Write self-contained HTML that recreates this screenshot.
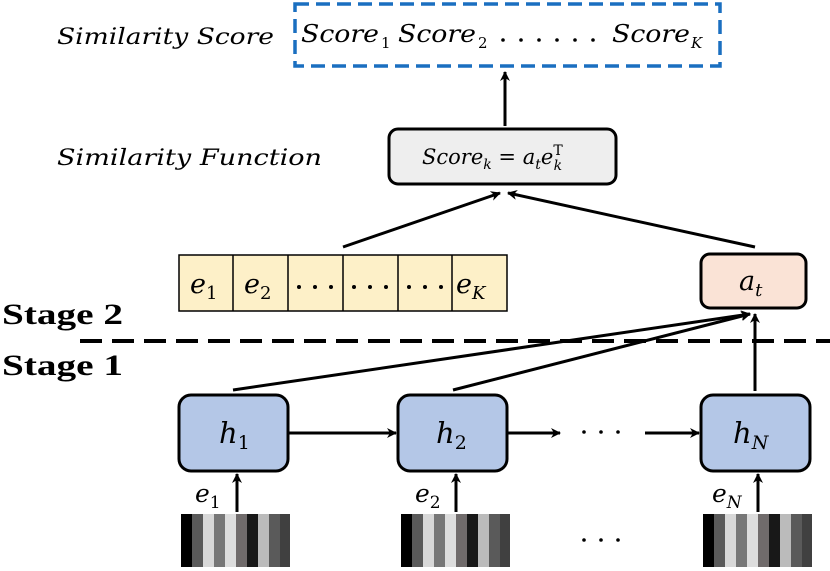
<!DOCTYPE html>
<html><head><meta charset="utf-8"><style>
html,body{margin:0;padding:0;background:#fff;}
svg{display:block;}
text{font-family:"DejaVu Serif","Liberation Serif",serif;}
.it{font-style:italic;}
.b{font-family:"Liberation Serif",serif;font-weight:bold;}
</style></head><body>
<svg width="830" height="571" viewBox="0 0 830 571" xmlns="http://www.w3.org/2000/svg">
<defs>
<marker id="ar" markerWidth="10" markerHeight="10" refX="9" refY="5" orient="auto" markerUnits="userSpaceOnUse">
<path d="M0,0 L10,5 L0,10 L3,5 Z" fill="#000"/>
</marker>
</defs>
<text x="57" y="44" class="it" font-size="22" textLength="217" lengthAdjust="spacingAndGlyphs">Similarity Score</text>
<rect x="295" y="4" width="425" height="62" fill="none" stroke="#1a6fc0" stroke-width="3.5" stroke-dasharray="14,7"/>
<text x="301" y="42" class="it" font-size="24" textLength="78" lengthAdjust="spacingAndGlyphs">Score</text><text x="381" y="48" font-size="15">1</text>
<text x="398" y="42" class="it" font-size="24" textLength="78" lengthAdjust="spacingAndGlyphs">Score</text><text x="478" y="48" font-size="15">2</text>
<g fill="#000"><circle cx="503" cy="40" r="1.8"/><circle cx="521" cy="40" r="1.8"/><circle cx="539" cy="40" r="1.8"/><circle cx="557" cy="40" r="1.8"/><circle cx="575" cy="40" r="1.8"/><circle cx="593" cy="40" r="1.8"/></g>
<text x="612" y="42" class="it" font-size="24" textLength="78" lengthAdjust="spacingAndGlyphs">Score</text><text x="691" y="48" class="it" font-size="15">K</text>
<line x1="505" y1="126" x2="505" y2="72" stroke="#000" stroke-width="3" marker-end="url(#ar)"/>
<text x="57" y="165" class="it" font-size="22" textLength="265" lengthAdjust="spacingAndGlyphs">Similarity Function</text>
<rect x="389" y="129" width="227" height="55" rx="9" fill="#eeeeee" stroke="#000" stroke-width="3"/>
<text x="422" y="164" class="it" font-size="21">Score<tspan font-size="14" dy="5">k</tspan><tspan dy="-5" font-style="normal"> = </tspan><tspan>a</tspan><tspan font-size="14" dy="5">t</tspan><tspan dy="-5">e</tspan><tspan font-size="14" dy="-9" font-style="normal">T</tspan><tspan font-size="14" dx="-9" dy="15">k</tspan></text>
<line x1="343" y1="247" x2="500" y2="193" stroke="#000" stroke-width="3" marker-end="url(#ar)"/>
<line x1="755" y1="247" x2="508" y2="193" stroke="#000" stroke-width="3" marker-end="url(#ar)"/>
<rect x="179" y="255" width="328" height="56" fill="#fdf0c8" stroke="#000" stroke-width="1.5"/>
<g stroke="#000" stroke-width="1.5">
<line x1="233" y1="255" x2="233" y2="311"/><line x1="288" y1="255" x2="288" y2="311"/>
<line x1="343" y1="255" x2="343" y2="311"/><line x1="398" y1="255" x2="398" y2="311"/>
<line x1="452" y1="255" x2="452" y2="311"/>
</g>
<g font-size="27" class="it">
<text x="190" y="293">e<tspan font-size="18" dy="6" font-style="normal">1</tspan></text>
<text x="244" y="293">e<tspan font-size="18" dy="6" font-style="normal">2</tspan></text>
<text x="456" y="293">e<tspan font-size="18" dy="6">K</tspan></text>
</g>
<g fill="#000">
<circle cx="299" cy="287" r="2"/><circle cx="315" cy="287" r="2"/><circle cx="331" cy="287" r="2"/>
<circle cx="354" cy="287" r="2"/><circle cx="370" cy="287" r="2"/><circle cx="386" cy="287" r="2"/>
<circle cx="409" cy="287" r="2"/><circle cx="425" cy="287" r="2"/><circle cx="441" cy="287" r="2"/>
</g>
<rect x="701" y="254" width="105" height="54" rx="9" fill="#fae3d6" stroke="#000" stroke-width="3"/>
<text x="739" y="290" class="it" font-size="27">a<tspan font-size="18" dy="6">t</tspan></text>
<text x="2" y="324" font-size="30" class="b" textLength="121" lengthAdjust="spacingAndGlyphs">Stage 2</text>
<line x1="80" y1="341" x2="830" y2="341" stroke="#000" stroke-width="4" stroke-dasharray="22,10"/>
<text x="2" y="375" font-size="30" class="b" textLength="121" lengthAdjust="spacingAndGlyphs">Stage 1</text>
<line x1="233" y1="390" x2="750" y2="314" stroke="#000" stroke-width="3" marker-end="url(#ar)"/>
<line x1="453" y1="390" x2="750" y2="314" stroke="#000" stroke-width="3" marker-end="url(#ar)"/>
<line x1="755" y1="391" x2="755" y2="314" stroke="#000" stroke-width="3" marker-end="url(#ar)"/>
<rect x="179" y="395" width="109" height="76" rx="12" fill="#b4c7e7" stroke="#000" stroke-width="3"/>
<rect x="398" y="395" width="109" height="76" rx="12" fill="#b4c7e7" stroke="#000" stroke-width="3"/>
<rect x="701" y="395" width="109" height="76" rx="12" fill="#b4c7e7" stroke="#000" stroke-width="3"/>
<g font-size="29" class="it">
<text x="219" y="443">h<tspan font-size="19" dy="6" font-style="normal">1</tspan></text>
<text x="436" y="443">h<tspan font-size="19" dy="6" font-style="normal">2</tspan></text>
<text x="733" y="443">h<tspan font-size="19" dy="6">N</tspan></text>
</g>
<line x1="288" y1="433" x2="396" y2="433" stroke="#000" stroke-width="3" marker-end="url(#ar)"/>
<line x1="507" y1="433" x2="560" y2="433" stroke="#000" stroke-width="3" marker-end="url(#ar)"/>
<g fill="#000"><circle cx="584" cy="432" r="1.8"/><circle cx="601" cy="432" r="1.8"/><circle cx="618" cy="432" r="1.8"/></g>
<line x1="645" y1="433" x2="699" y2="433" stroke="#000" stroke-width="3" marker-end="url(#ar)"/>
<g font-size="25" class="it">
<text x="195" y="502">e<tspan font-size="17" dy="6" font-style="normal">1</tspan></text>
<text x="415" y="502">e<tspan font-size="17" dy="6" font-style="normal">2</tspan></text>
<text x="712" y="502">e<tspan font-size="17" dy="6">N</tspan></text>
</g>
<line x1="237" y1="512" x2="237" y2="474" stroke="#000" stroke-width="3" marker-end="url(#ar)"/>
<line x1="456" y1="512" x2="456" y2="474" stroke="#000" stroke-width="3" marker-end="url(#ar)"/>
<line x1="758" y1="512" x2="758" y2="474" stroke="#000" stroke-width="3" marker-end="url(#ar)"/>
<g id="bc">
<rect x="181" y="514" width="11" height="53" fill="#000"/>
<rect x="192" y="514" width="11" height="53" fill="#5a5a5a"/>
<rect x="203" y="514" width="11" height="53" fill="#d8d8d8"/>
<rect x="214" y="514" width="11" height="53" fill="#777"/>
<rect x="225" y="514" width="11" height="53" fill="#ddd"/>
<rect x="236" y="514" width="11" height="53" fill="#706b6b"/>
<rect x="247" y="514" width="11" height="53" fill="#181818"/>
<rect x="258" y="514" width="11" height="53" fill="#bbb"/>
<rect x="269" y="514" width="11" height="53" fill="#5a5a5a"/>
<rect x="280" y="514" width="10" height="53" fill="#404040"/>
</g>
<use href="#bc" x="220"/>
<use href="#bc" x="522"/>
<g fill="#000"><circle cx="584" cy="540" r="1.8"/><circle cx="601" cy="540" r="1.8"/><circle cx="618" cy="540" r="1.8"/></g>
</svg>
</body></html>
